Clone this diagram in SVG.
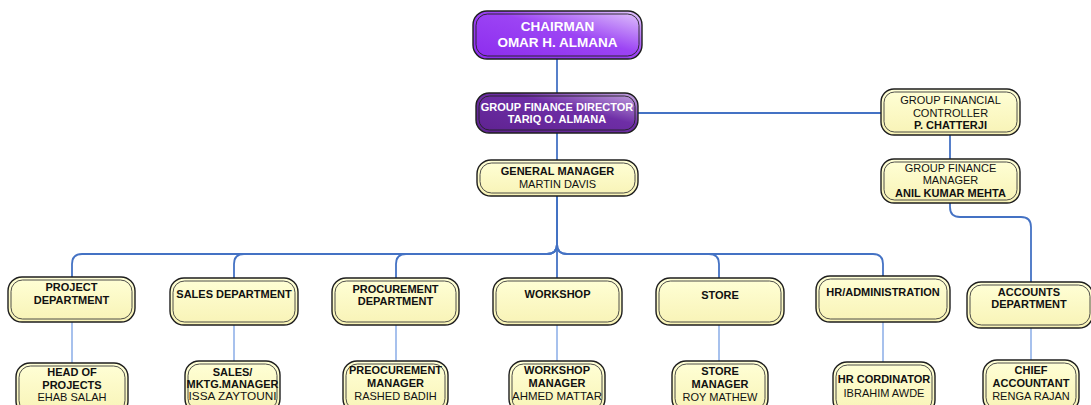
<svg xmlns="http://www.w3.org/2000/svg" width="1091" height="405" viewBox="0 0 1091 405">
<defs>
<linearGradient id="gChair" x1="0" y1="1" x2="1" y2="0">
<stop offset="0" stop-color="#8c2cee"/>
<stop offset="0.55" stop-color="#9c44f4"/>
<stop offset="1" stop-color="#e2c8fc"/>
</linearGradient>
<linearGradient id="gGfd" x1="0" y1="1" x2="1" y2="0">
<stop offset="0" stop-color="#5e2290"/>
<stop offset="0.6" stop-color="#6e2ea6"/>
<stop offset="1" stop-color="#c6a6e2"/>
</linearGradient>
<linearGradient id="gYel" x1="0" y1="0" x2="0" y2="1">
<stop offset="0" stop-color="#ffffd6"/>
<stop offset="1" stop-color="#f8f3b6"/>
</linearGradient>
</defs>
<style>
.yo{fill:url(#gYel);stroke:#1e1e1e;stroke-width:1.4}
.po{stroke:#1e1e1e;stroke-width:1.4}
.in{fill:none;stroke:#3a3a3a;stroke-width:0.9}
.ip{fill:none;stroke:#222;stroke-width:0.9}
.c{fill:none;stroke:#4472c4;stroke-width:1.8}
.c2{fill:none;stroke:#78a0e4;stroke-width:1.3}
text{font-family:"Liberation Sans",Arial,sans-serif;font-size:11px;text-anchor:middle;fill:#111}
.b{font-weight:bold}
.w{fill:#fff;font-weight:bold}
.big{font-size:13.5px}
</style>
<g id="connectors">
<path class="c" d="M557,59 V93"/>
<path class="c" d="M557,133 V160"/>
<path class="c" d="M638,113 H881"/>
<path class="c" d="M950,135 V159"/>
<path class="c" d="M950,203 V207 Q950,217 960,217 H1021 Q1031,217 1031,227 V282"/>
<path class="c" d="M557,196 V244 Q557,254 547,254 H82 Q72,254 72,264 V277"/>
<path class="c" d="M557,196 V244 Q557,254 547,254 H244 Q234,254 234,264 V278"/>
<path class="c" d="M557,196 V244 Q557,254 547,254 H406 Q396,254 396,264 V278"/>
<path class="c" d="M557,196 V278"/>
<path class="c" d="M557,196 V244 Q557,254 567,254 H709 Q719,254 719,264 V278"/>
<path class="c" d="M557,196 V244 Q557,254 567,254 H873 Q883,254 883,264 V276"/>
<path class="c2" d="M72,322 V363"/>
<path class="c2" d="M234,325 V361"/>
<path class="c2" d="M396,325 V361"/>
<path class="c2" d="M557,325 V361"/>
<path class="c2" d="M719,325 V361"/>
<path class="c2" d="M883,322 V362"/>
<path class="c2" d="M1031,328 V360"/>
</g>
<g id="chairman">
<rect class="po" x="473" y="11" width="169" height="48" rx="14" fill="url(#gChair)"/>
<rect class="ip" x="476" y="14" width="163" height="42" rx="11.5"/>
<text class="w big" x="557.5" y="31">CHAIRMAN</text>
<text class="w big" x="557.5" y="47">OMAR H. ALMANA</text>
</g>
<g id="gfd">
<rect class="po" x="476" y="93" width="162" height="40" rx="13" fill="url(#gGfd)"/>
<rect class="ip" x="479" y="96" width="156" height="34" rx="10.5"/>
<text class="w" x="557" y="111">GROUP FINANCE DIRECTOR</text>
<text class="w" x="557" y="123">TARIQ O. ALMANA</text>
</g>
<g id="gm">
<rect class="yo" x="477" y="160" width="161" height="36" rx="14"/>
<rect class="in" x="480" y="163" width="155" height="30" rx="11.5"/>
<text class="b" x="557.5" y="175">GENERAL MANAGER</text>
<text x="557.5" y="188">MARTIN DAVIS</text>
</g>
<g id="gfc">
<rect class="yo" x="881" y="89" width="139" height="46" rx="13"/>
<rect class="in" x="884" y="92" width="133" height="40" rx="10.5"/>
<text x="950.5" y="104">GROUP FINANCIAL</text>
<text x="950.5" y="117">CONTROLLER</text>
<text class="b" x="950.5" y="129">P. CHATTERJI</text>
</g>
<g id="gfm">
<rect class="yo" x="881" y="159" width="139" height="44" rx="13"/>
<rect class="in" x="884" y="162" width="133" height="38" rx="10.5"/>
<text x="950.5" y="172">GROUP FINANCE</text>
<text x="950.5" y="184">MANAGER</text>
<text class="b" x="950.5" y="197">ANIL KUMAR MEHTA</text>
</g>
<g id="project">
<rect class="yo" x="8" y="277" width="127" height="45" rx="14"/>
<rect class="in" x="11" y="280" width="121" height="39" rx="11.5"/>
<text class="b" x="71.5" y="291">PROJECT</text>
<text class="b" x="71.5" y="304">DEPARTMENT</text>
</g>
<g id="sales">
<rect class="yo" x="170" y="278" width="128" height="47" rx="14"/>
<rect class="in" x="173" y="281" width="122" height="41" rx="11.5"/>
<text class="b" x="234" y="298">SALES DEPARTMENT</text>
</g>
<g id="procurement">
<rect class="yo" x="332" y="278" width="127" height="47" rx="14"/>
<rect class="in" x="335" y="281" width="121" height="41" rx="11.5"/>
<text class="b" x="395.5" y="293">PROCUREMENT</text>
<text class="b" x="395.5" y="305">DEPARTMENT</text>
</g>
<g id="workshop">
<rect class="yo" x="493" y="278" width="129" height="47" rx="14"/>
<rect class="in" x="496" y="281" width="123" height="41" rx="11.5"/>
<text class="b" x="557.5" y="298">WORKSHOP</text>
</g>
<g id="store">
<rect class="yo" x="656" y="278" width="128" height="47" rx="14"/>
<rect class="in" x="659" y="281" width="122" height="41" rx="11.5"/>
<text class="b" x="720" y="299">STORE</text>
</g>
<g id="hr">
<rect class="yo" x="816" y="276" width="134" height="46" rx="14"/>
<rect class="in" x="819" y="279" width="128" height="40" rx="11.5"/>
<text class="b" x="883" y="296">HR/ADMINISTRATION</text>
</g>
<g id="accounts">
<rect class="yo" x="967" y="282" width="126" height="46" rx="14"/>
<rect class="in" x="970" y="285" width="120" height="40" rx="11.5"/>
<text class="b" x="1029" y="296">ACCOUNTS</text>
<text class="b" x="1029" y="308">DEPARTMENT</text>
</g>
<g id="head-projects">
<rect class="yo" x="16" y="363" width="112" height="52" rx="14"/>
<rect class="in" x="19" y="366" width="106" height="46" rx="11.5"/>
<text class="b" x="72" y="376">HEAD OF</text>
<text class="b" x="72" y="389">PROJECTS</text>
<text x="72" y="401">EHAB SALAH</text>
</g>
<g id="sales-manager">
<rect class="yo" x="185" y="361" width="95" height="52" rx="14"/>
<rect class="in" x="188" y="364" width="89" height="46" rx="11.5"/>
<text class="b" x="232.5" y="376">SALES/</text>
<text class="b" x="232.5" y="388" textLength="92" lengthAdjust="spacingAndGlyphs">MKTG.MANAGER</text>
<text x="232.5" y="400" textLength="88" lengthAdjust="spacingAndGlyphs">ISSA ZAYTOUNI</text>
</g>
<g id="procurement-manager">
<rect class="yo" x="343" y="361" width="105" height="52" rx="14"/>
<rect class="in" x="346" y="364" width="99" height="46" rx="11.5"/>
<text class="b" x="395.5" y="374" textLength="93" lengthAdjust="spacingAndGlyphs">PREOCUREMENT</text>
<text class="b" x="395.5" y="387">MANAGER</text>
<text x="395.5" y="400">RASHED BADIH</text>
</g>
<g id="workshop-manager">
<rect class="yo" x="509" y="361" width="96" height="52" rx="14"/>
<rect class="in" x="512" y="364" width="90" height="46" rx="11.5"/>
<text class="b" x="557" y="374">WORKSHOP</text>
<text class="b" x="557" y="387">MANAGER</text>
<text x="557" y="400" textLength="90" lengthAdjust="spacingAndGlyphs">AHMED MATTAR</text>
</g>
<g id="store-manager">
<rect class="yo" x="672" y="361" width="96" height="52" rx="14"/>
<rect class="in" x="675" y="364" width="90" height="46" rx="11.5"/>
<text class="b" x="720" y="375">STORE</text>
<text class="b" x="720" y="388">MANAGER</text>
<text x="720" y="401">ROY MATHEW</text>
</g>
<g id="hr-coordinator">
<rect class="yo" x="833" y="362" width="102" height="52" rx="14"/>
<rect class="in" x="836" y="365" width="96" height="46" rx="11.5"/>
<text class="b" x="884" y="383">HR CORDINATOR</text>
<text x="884" y="397">IBRAHIM AWDE</text>
</g>
<g id="chief-accountant">
<rect class="yo" x="983" y="360" width="96" height="52" rx="14"/>
<rect class="in" x="986" y="363" width="90" height="46" rx="11.5"/>
<text class="b" x="1031" y="374">CHIEF</text>
<text class="b" x="1031" y="387">ACCOUNTANT</text>
<text x="1031" y="400">RENGA RAJAN</text>
</g>
</svg>
